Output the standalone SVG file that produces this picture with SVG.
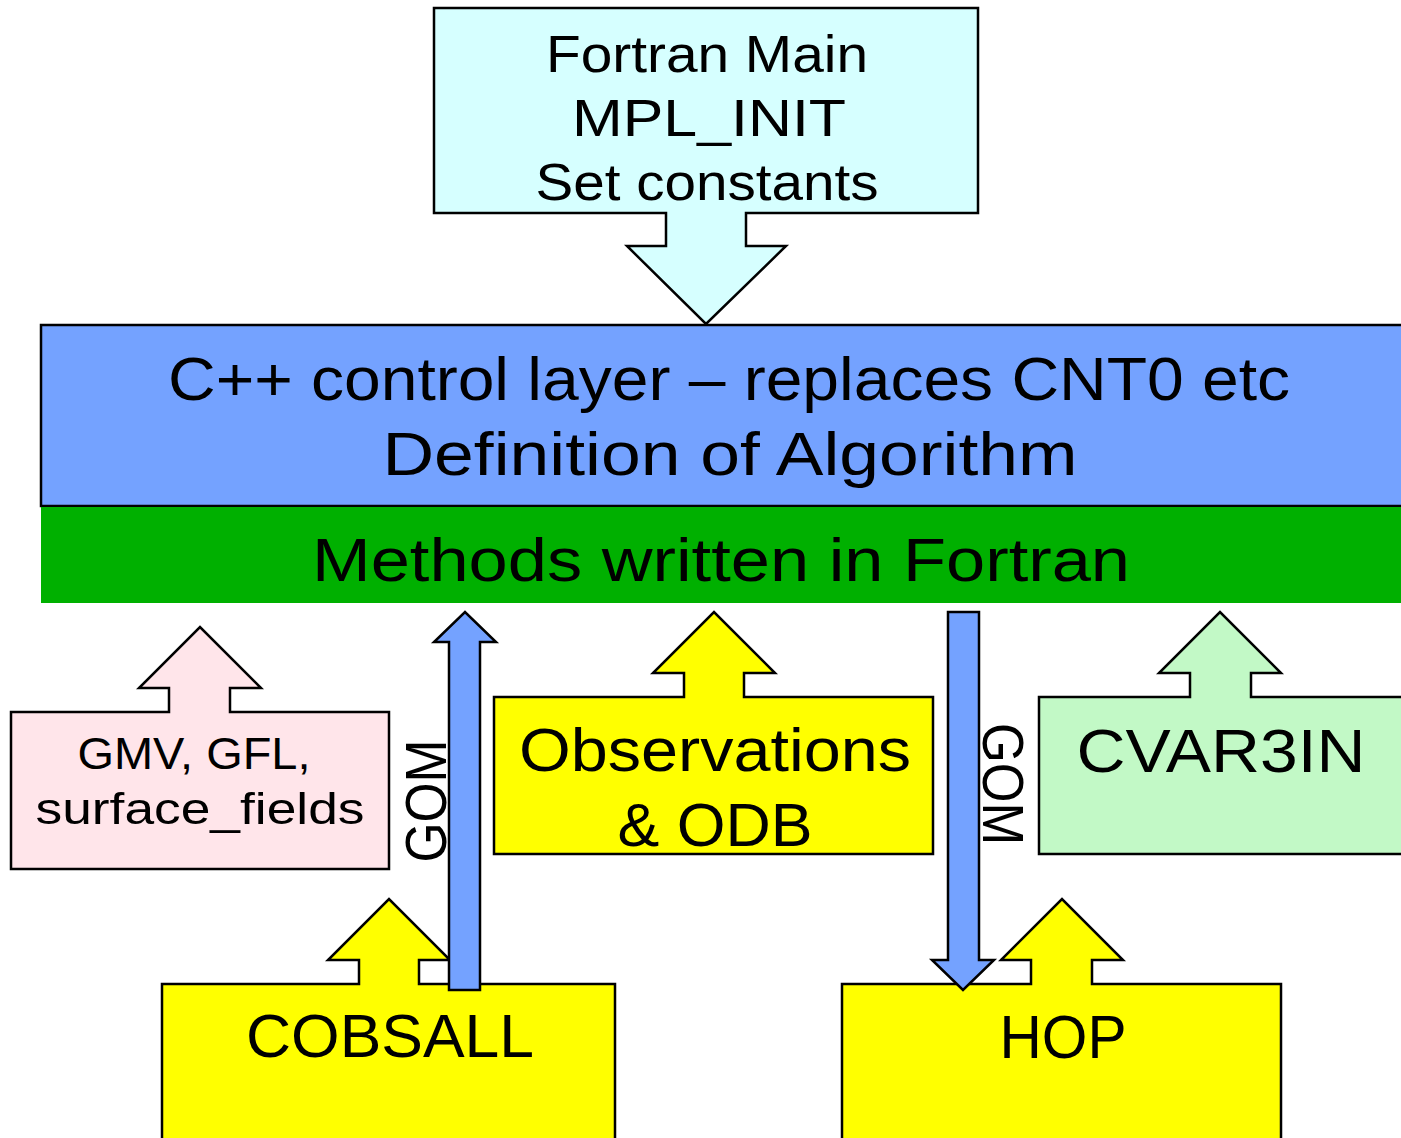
<svg xmlns="http://www.w3.org/2000/svg" width="1401" height="1138" viewBox="0 0 1401 1138">
<style>
.box{stroke:#000;stroke-width:2.5;stroke-linejoin:miter}
.t{font-family:"Liberation Sans",Arial,sans-serif;fill:#000;text-anchor:middle}
.cyan{fill:#d6ffff}
.blue{fill:#74a2ff}
.pink{fill:#ffe5ea}
.yel{fill:#ffff00}
.lg{fill:#c2f9c6}
</style>
<rect width="1401" height="1138" fill="#fff"/>
<g id="fortran-main">
<path class="box cyan" d="M434,8 L978,8 L978,213 L746,213 L746,246 L786,246 L706,324 L627,246 L666,246 L666,213 L434,213 Z"/>
<text class="t" x="707" y="72" font-size="52" textLength="322" lengthAdjust="spacingAndGlyphs">Fortran Main</text>
<text class="t" x="709" y="136" font-size="52" textLength="274" lengthAdjust="spacingAndGlyphs">MPL_INIT</text>
<text class="t" x="707" y="200" font-size="52" textLength="343" lengthAdjust="spacingAndGlyphs">Set constants</text>
</g>
<g id="control-layer">
<rect class="box blue" x="41" y="325" width="1370" height="181"/>
<text class="t" x="729" y="400" font-size="62" textLength="1122" lengthAdjust="spacingAndGlyphs">C++ control layer – replaces CNT0 etc</text>
<text class="t" x="730" y="475" font-size="62" textLength="695" lengthAdjust="spacingAndGlyphs">Definition of Algorithm</text>
</g>
<g id="fortran-methods">
<rect x="41" y="507" width="1370" height="96" fill="#00b000"/>
<text class="t" x="721" y="581" font-size="62" textLength="818" lengthAdjust="spacingAndGlyphs">Methods written in Fortran</text>
</g>
<g id="gmv">
<path class="box pink" d="M11,712 L169,712 L169,688 L139,688 L200,627 L261,688 L230,688 L230,712 L389,712 L389,869 L11,869 Z"/>
<text class="t" x="194" y="769" font-size="45" textLength="233" lengthAdjust="spacingAndGlyphs">GMV, GFL,</text>
<text class="t" x="200" y="824" font-size="45" textLength="329" lengthAdjust="spacingAndGlyphs">surface_fields</text>
</g>
<g id="observations">
<path class="box yel" d="M494,697 L684,697 L684,673 L653,673 L714,612 L775,673 L744,673 L744,697 L933,697 L933,854 L494,854 Z"/>
<text class="t" x="715" y="771" font-size="62" textLength="392" lengthAdjust="spacingAndGlyphs">Observations</text>
<text class="t" x="715" y="846" font-size="62" textLength="195" lengthAdjust="spacingAndGlyphs">&amp; ODB</text>
</g>
<g id="cvar3in">
<path class="box lg" d="M1039,697 L1190,697 L1190,673 L1159,673 L1220,612 L1281,673 L1251,673 L1251,697 L1412,697 L1412,854 L1039,854 Z"/>
<text class="t" x="1221" y="772" font-size="62" textLength="289" lengthAdjust="spacingAndGlyphs">CVAR3IN</text>
</g>
<g id="cobsall">
<path class="box yel" d="M162,984 L359,984 L359,960 L328,960 L389,899 L450,960 L419,960 L419,984 L615,984 L615,1145 L162,1145 Z"/>
<text class="t" x="390" y="1057" font-size="62" textLength="288" lengthAdjust="spacingAndGlyphs">COBSALL</text>
</g>
<g id="hop">
<path class="box yel" d="M842,984 L1031,984 L1031,960 L1001,960 L1062,899 L1123,960 L1092,960 L1092,984 L1281,984 L1281,1145 L842,1145 Z"/>
<text class="t" x="1063" y="1058" font-size="62" textLength="127" lengthAdjust="spacingAndGlyphs">HOP</text>
</g>
<g id="connectors">
<path class="box blue" d="M449,990 L449,642 L434,642 L465,612 L496,642 L480,642 L480,990 Z"/>
<text class="t" transform="translate(446,801) rotate(-90)" font-size="57" textLength="123" lengthAdjust="spacingAndGlyphs">GOM</text>
<path class="box blue" d="M948,612 L979,612 L979,960 L994,960 L963,990 L932,960 L948,960 Z"/>
<text class="t" transform="translate(983,784) rotate(90)" font-size="57" textLength="122" lengthAdjust="spacingAndGlyphs">GOM</text>
</g>
</svg>
